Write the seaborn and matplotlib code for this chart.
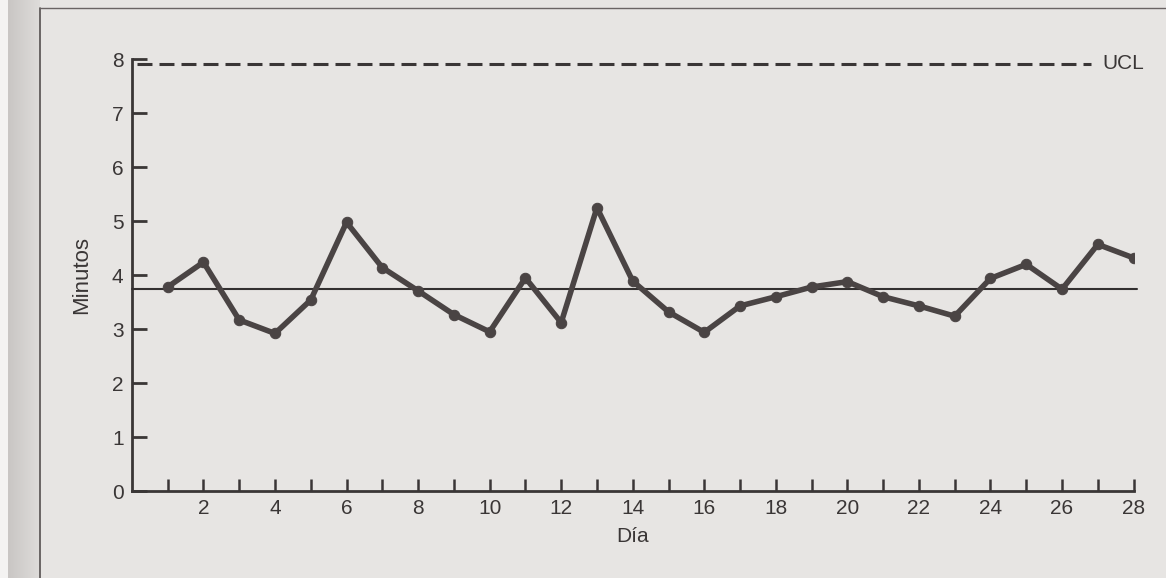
import numpy as np
import pandas as pd
import matplotlib
matplotlib.use("Agg")
import matplotlib.pyplot as plt
from matplotlib.lines import Line2D
from matplotlib.patches import Rectangle
import seaborn as sns

# ---- data ----
dias = list(range(1, 29))
minutos = [3.78, 4.24, 3.17, 2.92, 3.54, 4.98, 4.14, 3.71, 3.27, 2.95,
           3.95, 3.12, 5.25, 3.89, 3.32, 2.94, 3.43, 3.60, 3.78, 3.88,
           3.60, 3.43, 3.24, 3.94, 4.20, 3.74, 4.57, 4.32]
linea_central = 3.74
ucl = 7.92
yticks = [0, 1, 2, 3, 4, 5, 6, 7, 8]
xticks_labels = [2, 4, 6, 8, 10, 12, 14, 16, 18, 20, 22, 24, 26, 28]

df = pd.DataFrame({"Día": dias, "Minutos": minutos})

sns.set_theme(style="ticks")
plt.rcParams["font.family"] = ["Liberation Sans", "DejaVu Sans"]

bg = "#e7e5e3"
ink = "#3a3636"
fs = 15
fig = plt.figure(figsize=(11.66, 5.78), dpi=100, facecolor=bg)

# scanned page decorations (spine shadow and frame)
fig.patches.append(Rectangle((0, 0), 0.007, 1, transform=fig.transFigure,
                             facecolor="#f4f3f2", edgecolor="none", zorder=0))
grad = np.linspace(0, 1, 64).reshape(1, -1)
gax = fig.add_axes([0.007, 0, 0.027, 1])
gax.imshow(grad, aspect="auto", cmap=matplotlib.colors.LinearSegmentedColormap.from_list(
    "g", ["#c9c6c4", "#dedcda"]), extent=[0, 1, 0, 1])
gax.axis("off")
fig.add_artist(Line2D([0.0345, 0.0345], [0, 0.986], transform=fig.transFigure,
                      color="#555050", lw=1.2))
fig.add_artist(Line2D([0.0345, 1.0], [0.986, 0.986], transform=fig.transFigure,
                      color="#6a6464", lw=1.0))

ax = fig.add_axes([0.1131, 0.1505, 0.9722 - 0.1131, 0.8974 - 0.1505])
ax.set_facecolor(bg)

sns.lineplot(data=df, x="Día", y="Minutos", ax=ax, color="#4a4444",
             linewidth=4.0, marker="o", markersize=7.5,
             markeredgecolor="#4a4444", zorder=4)

ax.plot([0, 28.1], [linea_central, linea_central], color="#333030", lw=1.5,
        zorder=3, clip_on=False)
ax.plot([0.15, 26.8], [ucl, ucl], color="#3a3636", lw=2.2,
        linestyle=(0, (4.9, 2.3)), zorder=3)
ax.text(27.12, ucl, "UCL", ha="left", va="center", fontsize=fs, color=ink)

ax.set_xlim(0, 28)
ax.set_ylim(0, 8)
ax.set_yticks(yticks)
ax.set_xticks(dias)
ax.set_xticklabels([str(d) if d in xticks_labels else "" for d in dias])

for s in ["top", "right"]:
    ax.spines[s].set_visible(False)
for s in ["left", "bottom"]:
    ax.spines[s].set_color(ink)
    ax.spines[s].set_linewidth(2.0)

ax.tick_params(axis="y", direction="in", length=11, width=2.0, color=ink,
               labelsize=fs, labelcolor=ink, pad=6)
ax.tick_params(axis="x", direction="in", length=9, width=1.8, color=ink,
               labelsize=fs, labelcolor=ink, pad=6)

ax.set_xlabel("Día", fontsize=fs, color=ink, labelpad=6)
ax.set_ylabel("Minutos", fontsize=16, color=ink, labelpad=14)
ax.grid(False)

fig.savefig("out.png", dpi=100, facecolor=bg)
